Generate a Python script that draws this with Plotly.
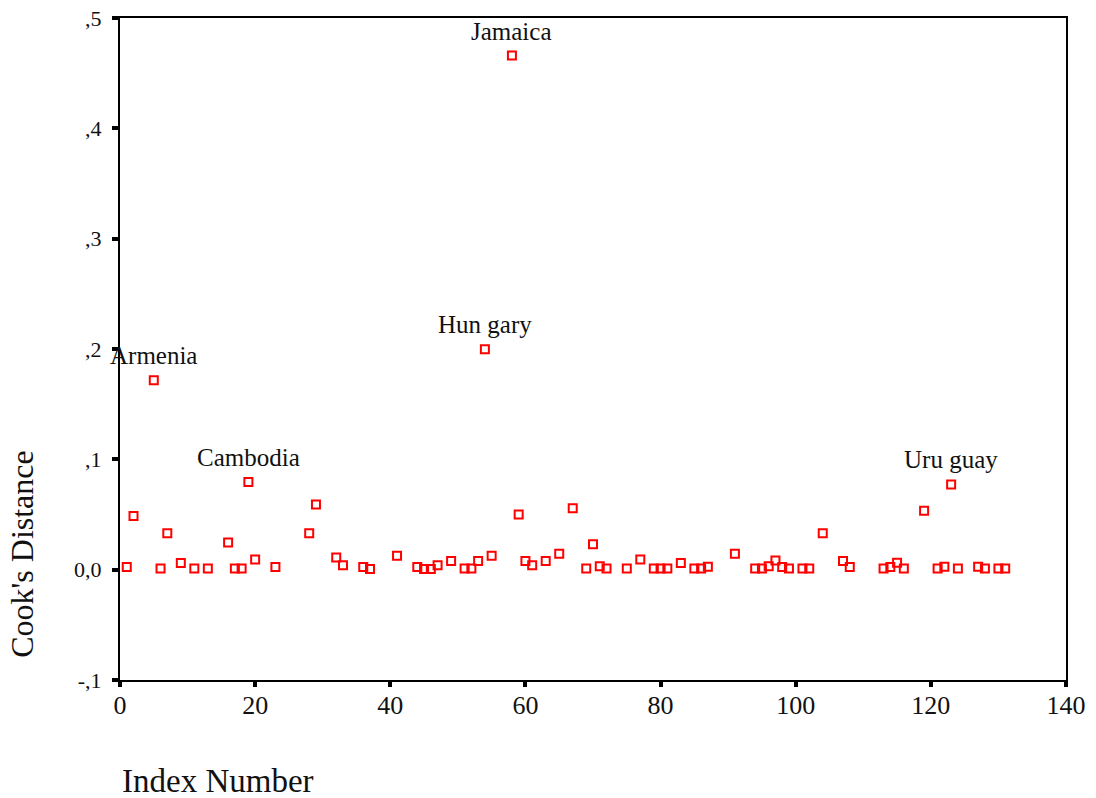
import plotly.graph_objects as go

# Data
index_number = [1, 2, 5, 6, 7, 9, 11, 13, 16, 17, 18, 19, 20, 23, 28, 29, 32, 33, 36, 37,
                41, 44, 45, 46, 47, 49, 51, 52, 53, 54, 55, 58, 59, 60, 61, 63, 65, 67,
                69, 70, 71, 72, 75, 77, 79, 80, 81, 83, 85, 86, 87, 91, 94, 95, 96, 97,
                98, 99, 101, 102, 104, 107, 108, 113, 114, 115, 116, 119, 121, 122, 123,
                124, 127, 128, 130, 131]
cooks_distance = [0.0024, 0.0486, 0.1716, 0.0010, 0.0330, 0.0060, 0.0010, 0.0010, 0.0247,
                  0.0010, 0.0010, 0.0794, 0.0093, 0.0024, 0.0330, 0.0590, 0.0110, 0.0040,
                  0.0024, 0.0006, 0.0127, 0.0024, 0.0005, 0.0005, 0.0040, 0.0078, 0.0010,
                  0.0010, 0.0078, 0.1997, 0.0127, 0.4660, 0.0500, 0.0078, 0.0040, 0.0078,
                  0.0145, 0.0556, 0.0010, 0.0230, 0.0030, 0.0010, 0.0010, 0.0093, 0.0010,
                  0.0010, 0.0010, 0.0060, 0.0010, 0.0010, 0.0027, 0.0145, 0.0010, 0.0010,
                  0.0030, 0.0084, 0.0024, 0.0010, 0.0010, 0.0010, 0.0330, 0.0078, 0.0024,
                  0.0010, 0.0024, 0.0063, 0.0010, 0.0535, 0.0010, 0.0027, 0.0773, 0.0010,
                  0.0027, 0.0010, 0.0010, 0.0010]
labelled_points = {5: "Armenia", 19: "Cambodia", 54: "Hun gary", 58: "Jamaica", 123: "Uru guay"}

x_ticks = [0, 20, 40, 60, 80, 100, 120, 140]
y_ticks = [-0.1, 0.0, 0.1, 0.2, 0.3, 0.4, 0.5]
y_tick_text = ["-,1", "0,0", ",1", ",2", ",3", ",4", ",5"]

FONT = "Liberation Serif, Times New Roman, serif"

fig = go.Figure()
fig.add_trace(go.Scatter(
    x=index_number, y=cooks_distance, mode="markers",
    marker=dict(symbol="square-open", size=8, color="#ff0000",
                line=dict(color="#ff0000", width=2)),
    showlegend=False, hoverinfo="x+y",
))

for xi, yi in zip(index_number, cooks_distance):
    if xi in labelled_points:
        fig.add_annotation(x=xi, y=yi, text=labelled_points[xi], showarrow=False,
                           xanchor="center", yanchor="bottom", yshift=9,
                           font=dict(family=FONT, size=25, color="#111111"))

fig.add_annotation(xref="paper", yref="paper", x=0, y=-0.152, xanchor="left", yanchor="middle",
                   text="Index Number", showarrow=False,
                   font=dict(family=FONT, size=33, color="#111111"))
fig.add_annotation(xref="paper", yref="paper", x=-0.103, y=0.19, xanchor="center", yanchor="middle",
                   text="Cook's Distance", textangle=-90, showarrow=False,
                   font=dict(family=FONT, size=32, color="#111111"))

fig.update_layout(
    width=1096, height=798,
    margin=dict(l=120, r=30, t=18, b=118),
    paper_bgcolor="white", plot_bgcolor="white",
    font=dict(family=FONT, color="#111111"),
)
fig.update_xaxes(range=[0, 140], tickvals=x_ticks, ticktext=[str(v) for v in x_ticks],
                 automargin=False,
                 showgrid=False, zeroline=False, showline=True, linecolor="black", linewidth=2,
                 mirror=True, ticks="outside", ticklen=5, tickwidth=4, tickcolor="black",
                 ticklabelstandoff=-4,
                 tickfont=dict(family=FONT, size=26, color="#111111"))
fig.update_yaxes(range=[-0.1, 0.5], tickvals=y_ticks, ticktext=y_tick_text,
                 automargin=False,
                 showgrid=False, zeroline=False, showline=True, linecolor="black", linewidth=2,
                 mirror=True, ticks="outside", ticklen=6, tickwidth=4, tickcolor="black",
                 ticklabelstandoff=6,
                 tickfont=dict(family=FONT, size=22, color="#111111"))

fig.write_html("out.html")
